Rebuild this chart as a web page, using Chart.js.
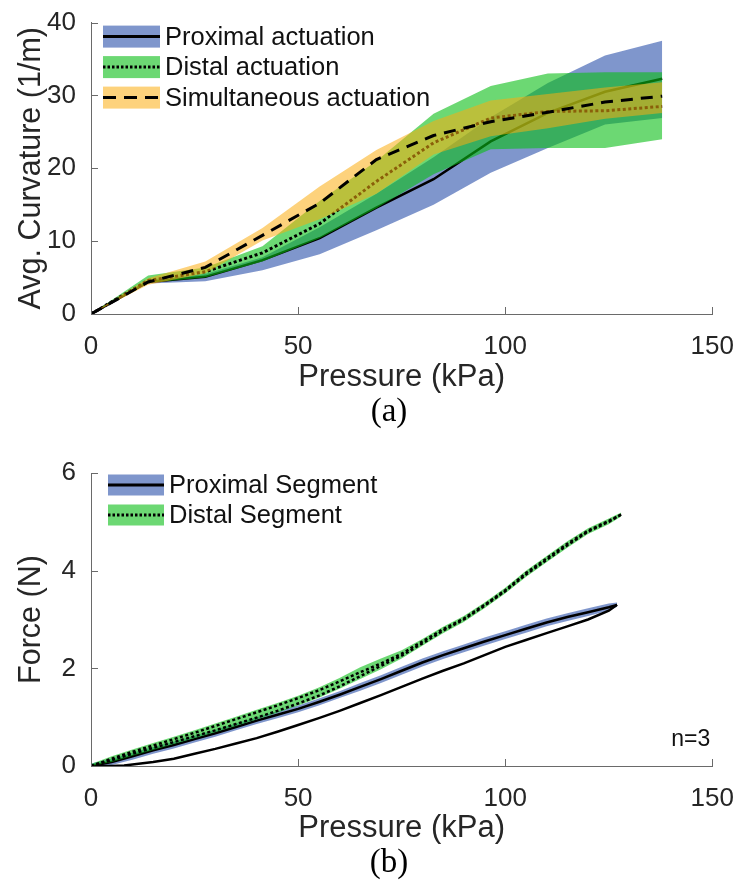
<!DOCTYPE html>
<html><head><meta charset="utf-8">
<script src="https://cdn.jsdelivr.net/npm/chart.js@4.4.0/dist/chart.umd.min.js"></script>
<style>
html,body{margin:0;padding:0;background:#fff;}
#wrap{position:relative;width:743px;height:888px;overflow:hidden;background:#fff;}
canvas{position:absolute;left:0;}
.cap{position:absolute;font-family:"Liberation Serif","Times New Roman",serif;font-size:33px;color:#000;transform:translateX(-50%);line-height:1;white-space:nowrap;}
</style></head><body>
<div id="wrap">
<canvas id="c1" width="743" height="440" style="top:0"></canvas>
<canvas id="c2" width="743" height="448" style="top:440px"></canvas>
<div class="cap" style="left:389px;top:394px">(a)</div>
<div class="cap" style="left:389px;top:845px">(b)</div>
</div>
<script>
// ---------- Panel (a): average curvature vs pressure ----------
const pressureA = [0, 13.8, 27.6, 41.4, 55.2, 68.9, 82.7, 96.5, 110.3, 124.1, 137.9];
const proxMean  = [0, 4.4, 5.1, 7.4, 10.4, 14.6, 18.5, 23.7, 27.6, 30.5, 32.3];
const proxUpper = [0, 4.7, 5.5, 7.8, 11.9, 16.5, 21.5, 27.0, 31.7, 35.5, 37.5];
const proxLower = [0, 4.2, 4.5, 6.0, 8.2, 11.5, 15.0, 19.4, 22.8, 26.0, 26.9];
const distMean  = [0, 4.6, 5.8, 8.4, 12.4, 18.2, 23.5, 26.9, 27.8, 27.9, 28.5];
const distUpper = [0, 5.3, 6.4, 9.3, 15.5, 21.0, 27.5, 31.3, 33.0, 33.2, 33.2];
const distLower = [0, 4.3, 5.0, 7.2, 10.4, 14.5, 19.2, 22.6, 22.8, 22.8, 24.0];
const simMean   = [0, 4.4, 6.4, 10.8, 15.2, 21.2, 24.5, 26.4, 27.7, 29.1, 29.9];
const simUpper  = [0, 4.9, 7.2, 11.8, 17.5, 22.5, 26.5, 29.3, 30.2, 31.1, 31.8];
const simLower  = [0, 4.0, 5.6, 10.1, 13.0, 16.5, 21.9, 24.4, 25.5, 26.8, 27.6];
const labelsA = ['Proximal actuation', 'Distal actuation', 'Simultaneous actuation'];

// ---------- Panel (b): force vs pressure ----------
const pressureProx = [0,5,10,15,20,25,30,35,40,45,50,55,60,65,70,75,80,85,90,95,100,105,110,115,120,125,127];
const proxForceA   = [0,0.08,0.2,0.32,0.43,0.55,0.67,0.8,0.93,1.05,1.17,1.31,1.46,1.62,1.78,1.95,2.12,2.27,2.41,2.55,2.68,2.81,2.94,3.05,3.15,3.25,3.3];
const proxBandHi   = [0.05,0.15,0.27,0.39,0.5,0.62,0.74,0.87,1.0,1.12,1.24,1.38,1.53,1.7,1.86,2.03,2.2,2.35,2.49,2.63,2.76,2.89,3.02,3.13,3.23,3.33,3.35];
const proxBandLo   = [0,0.02,0.13,0.25,0.36,0.48,0.6,0.73,0.86,0.98,1.1,1.24,1.39,1.54,1.7,1.87,2.04,2.19,2.33,2.47,2.6,2.73,2.86,2.97,3.07,3.18,3.26];
const pressureProxB = [0,5,8,10,15,20,25,30,35,40,45,50,55,60,65,70,75,80,85,90,95,100,105,110,115,120,125,127];
const proxForceB    = [0,0,0.01,0.03,0.08,0.15,0.25,0.35,0.46,0.57,0.7,0.84,0.98,1.13,1.29,1.45,1.62,1.79,1.95,2.1,2.27,2.44,2.58,2.72,2.86,3.0,3.18,3.3];
const pressureDist = [0,5,10,15,20,25,30,35,40,45,50,55,60,65,70,75,80,85,90,95,100,105,110,115,120,125,128];
const distForceA   = [0,0.15,0.29,0.42,0.55,0.68,0.82,0.96,1.1,1.24,1.39,1.55,1.73,1.92,2.1,2.3,2.55,2.8,3.02,3.3,3.6,3.95,4.25,4.55,4.82,5.02,5.15];
const distForceB   = [0,0.12,0.25,0.37,0.49,0.61,0.73,0.86,0.99,1.13,1.28,1.44,1.63,1.84,2.05,2.26,2.51,2.77,3.0,3.28,3.58,3.92,4.22,4.52,4.8,5.0,5.15];
const distBandHi   = [0.04,0.2,0.34,0.47,0.6,0.73,0.87,1.01,1.15,1.29,1.44,1.61,1.8,2.02,2.2,2.37,2.6,2.85,3.07,3.35,3.65,4.0,4.3,4.6,4.87,5.07,5.19];
const distBandLo   = [0,0.08,0.21,0.33,0.45,0.57,0.69,0.82,0.95,1.09,1.24,1.4,1.58,1.78,1.98,2.2,2.46,2.72,2.95,3.23,3.53,3.87,4.17,4.47,4.75,4.95,5.11];
const labelsB = ['Proximal Segment', 'Distal Segment'];

const xTicks = [0, 50, 100, 150];
const yTicksA = [0, 10, 20, 30, 40];
const yTicksB = [0, 2, 4, 6];

const AX = '#6a6a6a', TXT = '#262626';
const SANS = '"Liberation Sans", Arial, Helvetica, sans-serif';
const BLUE = 'rgba(0,45,153,0.5)', GREEN = 'rgba(10,190,22,0.6)', YELLOW = 'rgba(251,173,17,0.55)';
const SOLID = [], DOTTED = [3, 2.5], DASHED = [12, 8];

function pts(xs, ys) { return xs.map((x, i) => ({x: x, y: ys[i]})); }
function bandSets(xs, hi, lo, color, order) {
  return [
    {data: pts(xs, hi), borderWidth: 0, borderColor: 'rgba(0,0,0,0)', backgroundColor: color, fill: '+1', pointRadius: 0, order: order, tension: 0},
    {data: pts(xs, lo), borderWidth: 0, borderColor: 'rgba(0,0,0,0)', backgroundColor: 'rgba(0,0,0,0)', fill: false, pointRadius: 0, order: order, tension: 0}
  ];
}
function lineSet(xs, ys, dash, width, order) {
  return {data: pts(xs, ys), borderColor: '#000', borderWidth: width, borderDash: dash, borderCapStyle: 'butt', fill: false, pointRadius: 0, order: order, tension: 0};
}

const inwardTicks = {
  id: 'inwardTicks',
  afterDraw(chart) {
    const {ctx, chartArea: a, scales} = chart;
    ctx.save();
    ctx.strokeStyle = AX; ctx.lineWidth = 1;
    scales.x.ticks.forEach(t => {
      const px = Math.round(scales.x.getPixelForValue(t.value)) + 0.5;
      ctx.beginPath(); ctx.moveTo(px, a.bottom); ctx.lineTo(px, a.bottom - 7); ctx.stroke();
    });
    scales.y.ticks.forEach(t => {
      const py = Math.round(scales.y.getPixelForValue(t.value)) + 0.5;
      ctx.beginPath(); ctx.moveTo(a.left, py); ctx.lineTo(a.left + 7, py); ctx.stroke();
    });
    ctx.restore();
  }
};

function makeLegend(cfg) {
  return {
    id: 'bandLegend',
    afterDraw(chart) {
      const {ctx, chartArea: a} = chart;
      ctx.save();
      cfg.items.forEach((it, i) => {
        const cy = a.top + cfg.top + i * cfg.step;
        const x0 = a.left + cfg.left;
        ctx.fillStyle = it.band;
        ctx.fillRect(x0, cy - cfg.h / 2, cfg.w, cfg.h);
        ctx.strokeStyle = '#000'; ctx.lineWidth = 3; ctx.lineCap = 'butt';
        ctx.setLineDash(it.dash);
        ctx.beginPath(); ctx.moveTo(x0, cy); ctx.lineTo(x0 + cfg.w, cy); ctx.stroke();
        ctx.setLineDash([]);
        ctx.fillStyle = '#111'; ctx.font = cfg.font; ctx.textBaseline = 'middle'; ctx.textAlign = 'left';
        ctx.fillText(it.label, x0 + cfg.w + 5, cy + 1);
      });
      if (cfg.note) {
        ctx.fillStyle = '#111'; ctx.font = cfg.note.font; ctx.textAlign = 'right'; ctx.textBaseline = 'middle';
        ctx.fillText(cfg.note.text, a.right + cfg.note.dx, a.bottom + cfg.note.dy);
      }
      ctx.restore();
    }
  };
}

function axes(yMax, yTitle, xH) {
  return {
    x: {
      type: 'linear', min: 0, max: 150,
      afterBuildTicks: s => { s.ticks = xTicks.map(v => ({value: v})); },
      border: {display: true, color: AX, width: 1},
      grid: {display: false},
      ticks: {color: TXT, font: {family: SANS, size: 26}, padding: 9, maxRotation: 0, autoSkip: false},
      title: {display: true, text: 'Pressure (kPa)', color: TXT, font: {family: SANS, size: 31}, padding: {top: 0, bottom: 0}},
      afterFit: s => { s.height = xH; }
    },
    y: {
      type: 'linear', min: 0, max: yMax,
      afterBuildTicks: s => { s.ticks = (yMax === 40 ? yTicksA : yTicksB).map(v => ({value: v})); },
      border: {display: true, color: AX, width: 1},
      grid: {display: false},
      ticks: {color: TXT, font: {family: SANS, size: 26}, padding: 7, autoSkip: false},
      title: {display: true, text: yTitle, color: TXT, font: {family: SANS, size: 30.5}, padding: {top: 13, bottom: 0}},
      afterFit: s => { s.width = 91; }
    }
  };
}

// ----- Chart (a) -----
const dsA = [].concat(
  bandSets(pressureA, proxUpper, proxLower, BLUE, 7),
  [lineSet(pressureA, proxMean, SOLID, 2.5, 6)],
  bandSets(pressureA, distUpper, distLower, GREEN, 5),
  [lineSet(pressureA, distMean, DOTTED, 3, 4)],
  bandSets(pressureA, simUpper, simLower, YELLOW, 3),
  [lineSet(pressureA, simMean, DASHED, 3, 2)]
);
new Chart(document.getElementById('c1'), {
  type: 'line',
  data: {datasets: dsA},
  options: {
    responsive: false, animation: false, events: [],
    layout: {autoPadding: false, padding: {left: 0, right: 26, top: 20, bottom: 44}},
    plugins: {legend: {display: false}, tooltip: {enabled: false}},
    scales: axes(40, 'Avg. Curvature (1/m)', 82)
  },
  plugins: [inwardTicks, makeLegend({
    left: 12, top: 14, step: 30.5, w: 57, h: 22, font: '25.5px ' + SANS,
    items: [
      {label: labelsA[0], band: BLUE, dash: SOLID},
      {label: labelsA[1], band: GREEN, dash: [2.5, 2]},
      {label: labelsA[2], band: YELLOW, dash: [13, 8]}
    ]
  })]
});

// ----- Chart (b) -----
const dsB = [].concat(
  bandSets(pressureProx, proxBandHi, proxBandLo, BLUE, 7),
  [lineSet(pressureProx, proxForceA, SOLID, 2.5, 6), lineSet(pressureProxB, proxForceB, SOLID, 2.5, 6)],
  bandSets(pressureDist, distBandHi, distBandLo, GREEN, 5),
  [lineSet(pressureDist, distForceA, DOTTED, 2.5, 4), lineSet(pressureDist, distForceB, DOTTED, 2.5, 4)]
);
new Chart(document.getElementById('c2'), {
  type: 'line',
  data: {datasets: dsB},
  options: {
    responsive: false, animation: false, events: [],
    layout: {autoPadding: false, padding: {left: 0, right: 26, top: 33, bottom: 41}},
    plugins: {legend: {display: false}, tooltip: {enabled: false}},
    scales: axes(6, 'Force (N)', 81)
  },
  plugins: [inwardTicks, makeLegend({
    left: 17, top: 12, step: 30, w: 56, h: 21, font: '25.5px ' + SANS,
    items: [
      {label: labelsB[0], band: BLUE, dash: SOLID},
      {label: labelsB[1], band: GREEN, dash: [2.5, 2]}
    ],
    note: {text: 'n=3', font: '23px ' + SANS, dx: -2, dy: -26}
  })]
});
</script>
</body></html>
